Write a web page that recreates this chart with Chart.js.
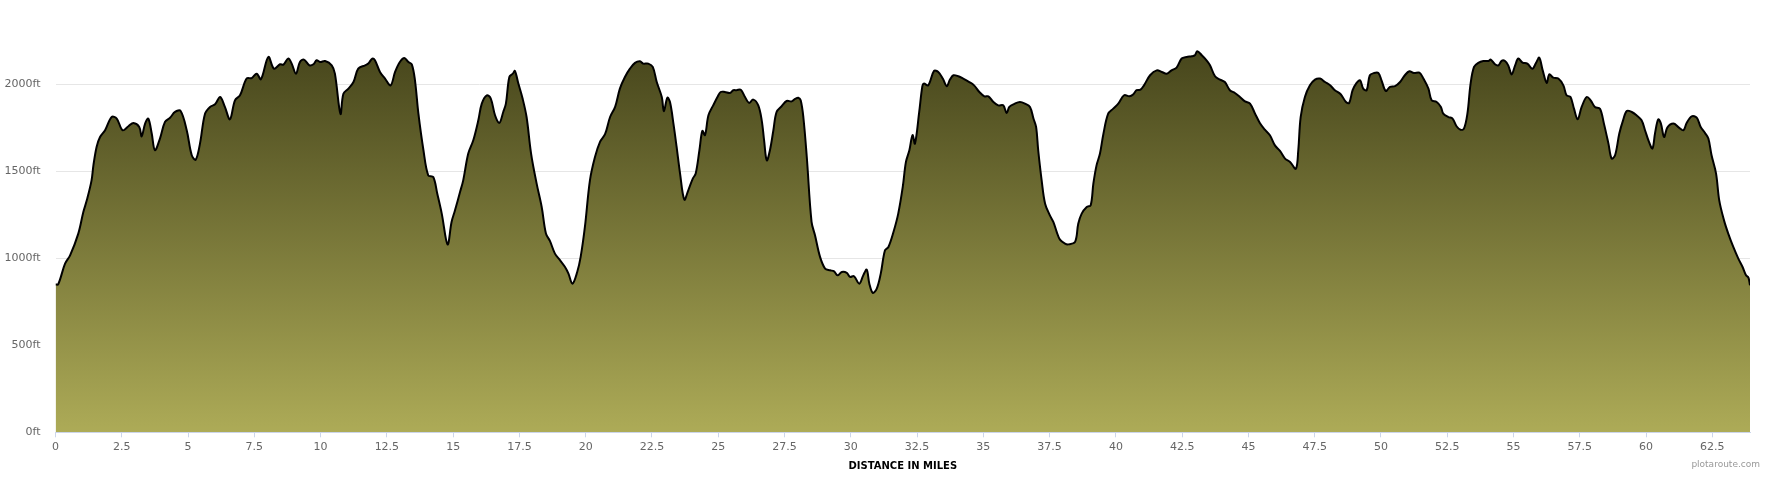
<!DOCTYPE html>
<html>
<head>
<meta charset="utf-8">
<title>Elevation profile</title>
<script src="https://cdn.jsdelivr.net/npm/chart.js@4/dist/chart.umd.min.js"></script>
<style>
  html,body{margin:0;padding:0;background:#fff;}
  #wrap{width:1770px;height:480px;}
</style>
</head>
<body>
<div id="wrap"><canvas id="elev" width="1770" height="480"></canvas></div>
<script>
// distance along route (miles)
const miles = [
  0,0.1,0.36,0.55,0.86,1.05,1.18,1.36,1.43,1.55,1.68,1.87,2.12,2.31,2.53,2.75,2.94,3.16,3.25,3.38,
  3.5,3.63,3.75,3.94,4.13,4.32,4.51,4.72,4.95,5.14,5.29,5.45,5.64,5.83,6.02,6.21,6.39,6.58,6.77,6.96,
  7.21,7.4,7.59,7.75,8.03,8.24,8.47,8.6,8.78,8.91,9.07,9.22,9.37,9.58,9.73,9.85,9.98,10.17,10.42,10.54,
  10.75,10.86,11.05,11.24,11.42,11.68,11.8,11.95,12.05,12.24,12.43,12.64,12.81,12.99,13.16,13.31,13.44,13.56,13.69,13.88,
  14.06,14.25,14.4,14.57,14.79,14.94,15.07,15.26,15.38,15.57,15.76,15.95,16.08,16.27,16.42,16.58,16.74,16.89,16.99,17.12,
  17.25,17.33,17.46,17.62,17.77,17.94,18.15,18.34,18.5,18.65,18.84,19.03,19.22,19.35,19.5,19.68,19.81,19.97,20.16,20.35,
  20.54,20.73,20.92,21.11,21.29,21.48,21.67,21.86,22.05,22.17,22.36,22.53,22.68,22.87,22.95,23.08,23.18,23.31,23.43,23.56,
  23.72,23.87,24.04,24.15,24.29,24.4,24.5,24.63,24.81,24.97,25.09,25.25,25.44,25.57,25.69,25.85,26.01,26.16,26.32,26.51,
  26.64,26.73,26.83,26.95,27.08,27.2,27.39,27.58,27.77,27.9,28.02,28.11,28.21,28.34,28.52,28.65,28.84,29.03,29.22,29.37,
  29.5,29.66,29.85,29.97,30.12,30.32,30.47,30.6,30.7,30.83,30.98,31.13,31.29,31.42,31.61,31.79,31.96,32.08,32.21,32.33,
  32.42,32.58,32.7,32.76,32.92,33.14,33.3,33.47,33.62,33.74,33.87,34.06,34.24,34.47,34.65,34.85,35.04,35.19,35.38,35.56,
  35.75,35.88,35.98,36.19,36.38,36.57,36.76,36.89,36.99,37.07,37.2,37.33,37.51,37.64,37.77,37.89,38.08,38.21,38.46,38.58,
  38.71,38.9,39.05,39.15,39.27,39.4,39.53,39.71,39.9,40.09,40.31,40.51,40.66,40.78,40.93,41.06,41.29,41.54,41.73,41.92,
  42.1,42.29,42.48,42.67,42.86,42.98,43.07,43.24,43.42,43.55,43.74,43.93,44.11,44.3,44.49,44.68,44.87,45.06,45.25,45.43,
  45.62,45.81,46,46.19,46.38,46.57,46.79,46.88,46.97,47.13,47.32,47.51,47.7,47.89,48.08,48.26,48.48,48.68,48.8,48.93,
  49.08,49.21,49.33,49.46,49.58,49.74,49.9,50.02,50.18,50.34,50.53,50.72,50.9,51.07,51.24,51.45,51.6,51.79,51.91,52.1,
  52.26,52.35,52.54,52.7,52.85,53,53.13,53.26,53.38,53.51,53.67,53.86,54.05,54.14,54.3,54.43,54.55,54.68,54.8,54.93,
  55.06,55.18,55.34,55.52,55.71,55.85,55.97,56.1,56.25,56.35,56.5,56.69,56.88,57,57.15,57.28,57.42,57.57,57.76,57.91,
  58.07,58.26,58.41,58.58,58.7,58.83,58.99,59.14,59.27,59.46,59.64,59.83,59.96,60.11,60.24,60.34,60.46,60.56,60.68,60.8,
  61.03,61.24,61.41,61.53,61.72,61.91,62.06,62.22,62.35,62.47,62.64,62.76,62.94,63.1,63.29,63.48,63.64,63.77,63.86,63.92
];

// elevation (feet)
const elevationFt = [
  850,850,969,1017,1142,1266,1333,1448,1534,1640,1697,1736,1812,1803,1736,1759,1778,1755,1701,1774,
  1803,1717,1621,1688,1784,1808,1841,1847,1736,1592,1567,1659,1831,1870,1885,1927,1870,1799,1908,1937,
  2033,2036,2061,2029,2157,2090,2115,2113,2148,2119,2061,2128,2142,2109,2115,2138,2128,2134,2109,2061,
  1830,1946,1975,2013,2090,2109,2119,2148,2138,2071,2033,1994,2071,2128,2151,2128,2115,2023,1831,1621,
  1477,1467,1372,1257,1080,1209,1276,1381,1448,1602,1678,1793,1889,1937,1918,1822,1778,1841,1889,2042,
  2061,2077,2004,1918,1812,1602,1429,1295,1142,1100,1027,989,950,912,854,921,1008,1180,1448,1582,
  1669,1713,1812,1870,1975,2042,2090,2123,2132,2119,2119,2100,2013,1927,1845,1923,1898,1774,1640,1487,
  1337,1391,1458,1487,1621,1732,1708,1822,1879,1927,1956,1956,1950,1966,1966,1969,1927,1893,1912,1879,
  1793,1678,1563,1621,1736,1841,1874,1904,1902,1916,1923,1908,1812,1582,1209,1132,1008,941,931,925,
  902,921,916,893,897,854,902,935,854,801,826,912,1046,1065,1151,1257,1410,1554,1621,1708,
  1659,1840,1990,2004,1994,2077,2071,2033,1989,2027,2052,2046,2033,2013,1994,1956,1931,1931,1898,1879,
  1879,1835,1870,1889,1898,1889,1870,1803,1755,1621,1448,1314,1247,1209,1151,1107,1084,1080,1094,1199,
  1257,1295,1305,1429,1534,1602,1716,1831,1860,1889,1937,1931,1943,1966,1969,1994,2052,2080,2071,2061,
  2080,2096,2148,2157,2161,2167,2190,2167,2138,2110,2046,2027,2013,1966,1950,1927,1902,1889,1831,1778,
  1739,1707,1649,1617,1573,1554,1515,1621,1812,1927,1994,2027,2033,2013,1994,1966,1943,1898,1893,1966,
  2008,2023,1975,1966,2052,2065,2065,2023,1962,1985,1989,2013,2052,2075,2065,2067,2033,1975,1908,1898,
  1870,1831,1812,1803,1759,1739,1745,1831,2004,2100,2123,2134,2134,2142,2115,2109,2135,2134,2109,2057,
  2109,2148,2125,2119,2090,2123,2153,2080,2008,2057,2038,2033,1994,1937,1927,1860,1799,1870,1927,1908,
  1870,1860,1774,1659,1573,1592,1717,1797,1847,1841,1822,1793,1736,1669,1631,1721,1799,1774,1697,1751,
  1774,1751,1736,1778,1816,1808,1755,1721,1688,1592,1487,1333,1218,1142,1065,998,950,902,889,845
];

const xTickValues = [0,2.5,5,7.5,10,12.5,15,17.5,20,22.5,25,27.5,30,32.5,35,37.5,40,42.5,45,47.5,50,52.5,55,57.5,60,62.5];
const yTickValues = [0,500,1000,1500,2000];

const points = miles.map((m, i) => ({x: m, y: elevationFt[i]}));
const labelFont = {family: "'DejaVu Sans', Verdana, sans-serif", size: 11};

// area fill: dark olive at the summit, light olive at sea level
function areaFill(ctx){
  const {chart} = ctx;
  const area = chart.chartArea;
  if(!area) return '#7f7e3b';
  const top = chart.scales.y.getPixelForValue(Math.max(...elevationFt));
  const g = chart.ctx.createLinearGradient(0, top, 0, area.bottom);
  g.addColorStop(0, '#47461c');
  g.addColorStop(1, '#adab57');
  return g;
}

const credit = {
  id: 'credit',
  afterDraw(chart){
    const c = chart.ctx;
    c.save();
    c.font = "9px 'DejaVu Sans', Verdana, sans-serif";
    c.fillStyle = '#999999';
    c.textAlign = 'right';
    c.textBaseline = 'alphabetic';
    c.fillText('plotaroute.com', 1760, 467);
    c.restore();
  }
};

new Chart(document.getElementById('elev'), {
  type: 'line',
  data: {
    datasets: [{
      label: 'Elevation',
      data: points,
      borderColor: '#000',
      borderWidth: 2,
      backgroundColor: areaFill,
      fill: 'origin',
      pointRadius: 0,
      tension: 0.35
    }]
  },
  options: {
    responsive: false,
    animation: false,
    layout: { padding: { top: 14.7, right: 20, left: 0, bottom: 0 } },
    plugins: { legend: {display:false}, tooltip: {enabled:false} },
    scales: {
      x: {
        type: 'linear',
        min: 0,
        max: miles[miles.length-1],
        afterBuildTicks: s => { s.ticks = xTickValues.map(v => ({value: v})); },
        afterFit: s => { s.height = 47.7; s.paddingLeft = 0; s.paddingRight = 0; },
        grid: { drawOnChartArea: false, drawTicks: true, tickLength: 5, color: '#ccd6eb' },
        border: { color: '#ccd6eb' },
        ticks: { color: '#666666', font: labelFont, padding: 3, maxRotation: 0, autoSkip: false,
                 callback: v => String(v) },
        title: { display: true, text: 'DISTANCE IN MILES', color: '#000',
                 font: {family: "'DejaVu Sans', Verdana, sans-serif", size: 10, weight: 'bold'},
                 padding: {top: 0, bottom: 8} }
      },
      y: {
        min: 0,
        max: 2400,
        afterBuildTicks: s => { s.ticks = yTickValues.map(v => ({value: v})); },
        afterFit: s => { s.width = 55.5; s.paddingTop = 0; s.paddingBottom = 0; },
        grid: { color: '#e6e6e6', drawTicks: false },
        border: { display: false },
        ticks: { color: '#666666', font: labelFont, padding: 15, callback: v => v + 'ft' }
      }
    }
  },
  plugins: [credit]
});
</script>
</body>
</html>
